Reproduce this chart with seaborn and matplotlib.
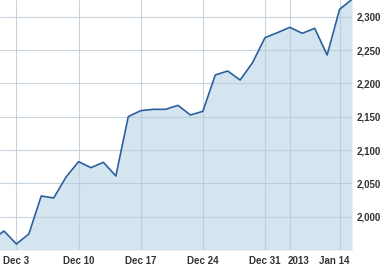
import numpy as np
import pandas as pd
import matplotlib
matplotlib.use("Agg")
import matplotlib.pyplot as plt
import matplotlib.transforms as mtransforms
import seaborn as sns

# Data: one value per trading session (index)
session = list(range(-1, 29))
close = [1964.5, 1978.5, 1959, 1974, 2031, 2028, 2059.5, 2082.5, 2073.5, 2081.5,
         2061, 2150, 2159, 2161, 2161, 2167, 2152.5, 2158, 2212.5, 2218.5,
         2205, 2231, 2268.5, 2276, 2284, 2275, 2282.5, 2242.5, 2311, 2326]

tick_pos = [1, 6, 11, 16, 21, 23, 27]
tick_labels = ["Dec 3", "Dec 10", "Dec 17", "Dec 24", "Dec 31", "2013", "Jan 14"]
y_ticks = [2000, 2050, 2100, 2150, 2200, 2250, 2300]

df = pd.DataFrame({"session": session, "close": close})

sns.set_style("white")
plt.rcParams["font.family"] = ["Liberation Sans", "DejaVu Sans"]

fig = plt.figure(figsize=(3.87, 2.71), dpi=100)
ax = fig.add_axes([0, 1 - 250 / 271, 352 / 387, 250 / 271])

ymin, ymax = 1950, 2325
ax.fill_between(df["session"], df["close"], ymin, color="#d5e5f0", lw=0, zorder=1)
sns.lineplot(data=df, x="session", y="close", ax=ax, color="#2c5f9e", lw=1.2, zorder=3)

ax.set_xlim(-0.32, 28)
ax.set_ylim(ymin, ymax)
ax.set_xticks(tick_pos)
ax.set_xticklabels(tick_labels)
ax.set_yticks(y_ticks)
ax.set_yticklabels([f"{v:,}" for v in y_ticks])
ax.yaxis.tick_right()
ax.grid(True, color="#b5c8d6", lw=0.8, alpha=0.75, zorder=2)
ax.set_axisbelow(False)
for line in ax.get_xgridlines() + ax.get_ygridlines():
    line.set_zorder(2)
ax.tick_params(axis="both", length=0, labelsize=7, labelcolor="#333333")
ax.tick_params(axis="x", pad=4)
ax.tick_params(axis="y", pad=3)
for lab in ax.get_xticklabels() + ax.get_yticklabels():
    lab.set_fontweight("bold")
for s in ax.spines.values():
    s.set_visible(False)
ax.set_xlabel("")
ax.set_ylabel("")

# nudge crowded labels like the reference (pixels at 100 dpi)
shifts = {"2013": 9, "Jan 14": -5.5}
for lab in ax.get_xticklabels():
    dx = shifts.get(lab.get_text(), 0)
    if dx:
        lab.set_transform(lab.get_transform() +
                          mtransforms.ScaledTranslation(dx / 100, 0, fig.dpi_scale_trans))

fig.savefig("out.png", dpi=100)
